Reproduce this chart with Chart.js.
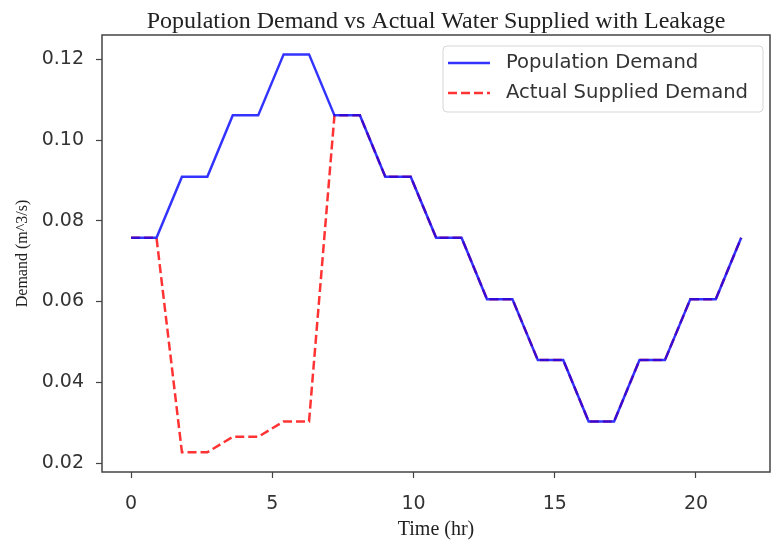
<!DOCTYPE html>
<html>
<head>
<meta charset="utf-8">
<script src="https://cdn.jsdelivr.net/npm/chart.js@4/dist/chart.umd.min.js"></script>
<style>
  html, body { margin: 0; padding: 0; background: #fff; }
  #wrap { width: 772px; height: 546px; }
</style>
</head>
<body>
<div id="wrap"><canvas id="myChart"></canvas></div>
<script>
// time axis (hr)
var times = [0, 0.9, 1.8, 2.7, 3.6, 4.5, 5.4, 6.3, 7.2, 8.1, 9.0, 9.9, 10.8,
             11.7, 12.6, 13.5, 14.4, 15.3, 16.2, 17.1, 18.0, 18.9, 19.8, 20.7, 21.6];
var populationDemand = [0.0758, 0.0758, 0.0909, 0.0909, 0.1061, 0.1061, 0.1212, 0.1212,
                        0.1061, 0.1061, 0.0909, 0.0909, 0.0758, 0.0758, 0.0606, 0.0606,
                        0.0455, 0.0455, 0.0303, 0.0303, 0.0455, 0.0455, 0.0606, 0.0606, 0.0758];
var suppliedDemand = [0.0758, 0.0758, 0.0227, 0.0227, 0.0265, 0.0265, 0.0303, 0.0303,
                      0.1061, 0.1061, 0.0909, 0.0909, 0.0758, 0.0758, 0.0606, 0.0606,
                      0.0455, 0.0455, 0.0303, 0.0303, 0.0455, 0.0455, 0.0606, 0.0606, 0.0758];
var xTicks = [0, 5, 10, 15, 20];
var yTicks = [0.02, 0.04, 0.06, 0.08, 0.10, 0.12];
var chartTitle = 'Population Demand vs Actual Water Supplied with Leakage';

function toPoints(ys) {
    return times.map(function (t, i) { return { x: t, y: ys[i] }; });
}

// title over plot area, box round the plot area + legend inside, like matplotlib
var frameAndLegend = {
    id: 'frameAndLegend',
    afterDraw: function (chart) {
        var ctx = chart.ctx;
        var a = chart.chartArea;
        ctx.save();

        ctx.font = '24px "Liberation Serif"';
        ctx.fillStyle = '#222';
        ctx.textAlign = 'center';
        ctx.textBaseline = 'alphabetic';
        ctx.fillText(chartTitle, (a.left + a.right) / 2, 28);
        ctx.textAlign = 'left';

        ctx.strokeStyle = '#444';
        ctx.lineWidth = 1.5;
        ctx.strokeRect(a.left, a.top, a.right - a.left, a.bottom - a.top);

        // legend
        var bx = 443, by = 46, bw = 320, bh = 66, r = 4;
        ctx.beginPath();
        ctx.moveTo(bx + r, by);
        ctx.arcTo(bx + bw, by, bx + bw, by + bh, r);
        ctx.arcTo(bx + bw, by + bh, bx, by + bh, r);
        ctx.arcTo(bx, by + bh, bx, by, r);
        ctx.arcTo(bx, by, bx + bw, by, r);
        ctx.closePath();
        ctx.fillStyle = 'rgba(255,255,255,0.8)';
        ctx.fill();
        ctx.strokeStyle = '#d6d6d6';
        ctx.lineWidth = 1;
        ctx.stroke();

        ctx.font = '19.6px "DejaVu Sans"';
        ctx.textBaseline = 'middle';
        chart.data.datasets.forEach(function (ds, i) {
            var y = 63 + i * 30;
            ctx.beginPath();
            ctx.setLineDash(ds.borderDash || []);
            ctx.strokeStyle = ds.borderColor;
            ctx.lineWidth = ds.borderWidth;
            ctx.moveTo(448, y);
            ctx.lineTo(490, y);
            ctx.stroke();
            ctx.setLineDash([]);
            ctx.fillStyle = '#333';
            ctx.fillText(ds.label, 506, y);
        });
        ctx.restore();
    }
};

var ctx = document.getElementById('myChart').getContext('2d');
var myChart = new Chart(ctx, {
    type: 'line',
    data: {
        datasets: [{
            label: 'Population Demand',
            data: toPoints(populationDemand),
            borderColor: 'rgba(0, 0, 255, 0.8)',
            borderWidth: 2.5,
            pointRadius: 0,
            fill: false,
            tension: 0
        }, {
            label: 'Actual Supplied Demand',
            data: toPoints(suppliedDemand),
            borderColor: 'rgba(255, 0, 0, 0.8)',
            borderWidth: 2.5,
            borderDash: [9, 4],
            pointRadius: 0,
            fill: false,
            tension: 0
        }]
    },
    options: {
        responsive: true,
        maintainAspectRatio: false,
        animation: false,
        layout: { padding: { left: 0, right: 2, top: 35, bottom: 0 } },
        plugins: {
            legend: { display: false },
            tooltip: { enabled: false },
            title: { display: false }
        },
        scales: {
            x: {
                type: 'linear',
                min: -1.03,
                max: 22.62,
                afterBuildTicks: function (scale) {
                    scale.ticks = xTicks.map(function (v) { return { value: v }; });
                },
                afterFit: function (scale) { scale.height = 74; },
                grid: { drawOnChartArea: false, drawTicks: true, tickLength: 6, color: '#444', tickWidth: 1.2 },
                border: { display: false },
                ticks: {
                    color: '#333',
                    font: { family: '"DejaVu Sans"', size: 19 },
                    padding: 15,
                    maxRotation: 0,
                    callback: function (v) { return String(v); }
                },
                title: {
                    display: true,
                    text: 'Time (hr)',
                    color: '#222',
                    font: { family: '"Liberation Serif"', size: 20 },
                    padding: { top: 2, bottom: 4 }
                }
            },
            y: {
                min: 0.0178,
                max: 0.126,
                afterBuildTicks: function (scale) {
                    scale.ticks = yTicks.map(function (v) { return { value: v }; });
                },
                afterFit: function (scale) { scale.width = 102; },
                grid: { drawOnChartArea: false, drawTicks: true, tickLength: 6, color: '#444', tickWidth: 1.2 },
                border: { display: false },
                ticks: {
                    color: '#333',
                    font: { family: '"DejaVu Sans"', size: 19 },
                    padding: 12,
                    callback: function (v) { return v.toFixed(2); }
                },
                title: {
                    display: true,
                    text: 'Demand (m^3/s)',
                    color: '#222',
                    font: { family: '"Liberation Serif"', size: 16 },
                    padding: { top: 13, bottom: 0 }
                }
            }
        }
    },
    plugins: [frameAndLegend]
});
</script>
</body>
</html>
